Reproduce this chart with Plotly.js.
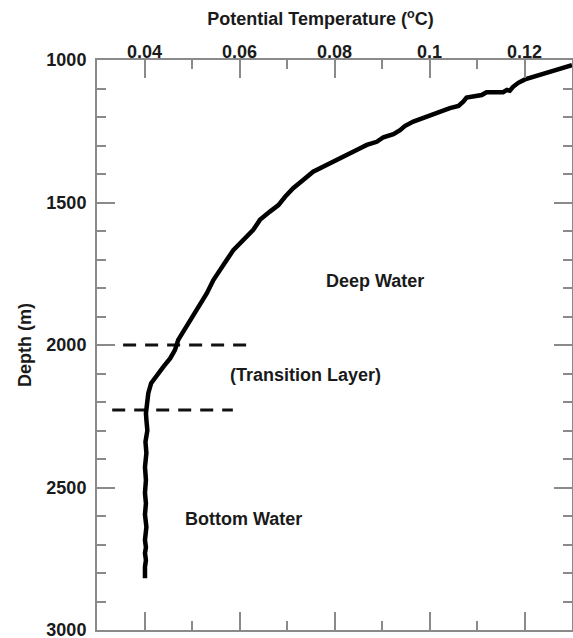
<!DOCTYPE html>
<html>
<head>
<meta charset="utf-8">
<script src="https://cdn.plot.ly/plotly-3.0.1.min.js"></script>
<style>
  html, body { margin: 0; padding: 0; background: #fff; }
  #chart { width: 573px; height: 638px; }
</style>
</head>
<body>
<div id="chart"></div>
<script>
// Potential temperature profile (°C) against depth (m)
const temperature = [
  0.1300, 0.1268, 0.1240, 0.1212, 0.1201, 0.1187, 0.1176, 0.1169, 0.1163, 0.1155,
  0.1134, 0.1120, 0.1110, 0.1092, 0.1078, 0.1071, 0.1061, 0.1043, 0.1015, 0.1001,
  0.0980, 0.0966, 0.0948, 0.0938, 0.0924, 0.0903, 0.0889, 0.0868, 0.0854, 0.0833,
  0.0812, 0.0784, 0.0755, 0.0734, 0.0713, 0.0696, 0.0682, 0.0664, 0.0643, 0.0629,
  0.0608, 0.0587, 0.0573, 0.0559, 0.0545, 0.0531, 0.0513, 0.0499, 0.0482, 0.0471,
  0.0464, 0.0454, 0.0440, 0.0426, 0.0414, 0.0408, 0.0405, 0.0403, 0.0404, 0.0406,
  0.0402, 0.0404, 0.0401, 0.0403, 0.0401, 0.0403, 0.0401, 0.0404, 0.0401, 0.0403,
  0.0401, 0.0403, 0.0401, 0.0402, 0.0401
];
const depth = [
  1018, 1035, 1049, 1064, 1068, 1080, 1094, 1108, 1105, 1113,
  1113, 1113, 1123, 1129, 1132, 1146, 1161, 1169, 1185, 1196,
  1208, 1216, 1232, 1246, 1260, 1271, 1287, 1298, 1310, 1327,
  1345, 1368, 1392, 1421, 1450, 1480, 1509, 1532, 1561, 1596,
  1632, 1667, 1702, 1737, 1772, 1819, 1866, 1906, 1947, 1982,
  2018, 2047, 2076, 2105, 2134, 2169, 2205, 2240, 2263, 2300,
  2340, 2379, 2428, 2474, 2519, 2555, 2595, 2639, 2684, 2710,
  2730, 2755, 2779, 2800, 2818
];

// Layer boundaries (dashed markers)
const upperBoundaryTemp = [0.0355, 0.0614];
const upperBoundaryDepth = [2000, 2000];
const lowerBoundaryTemp = [0.0332, 0.0586];
const lowerBoundaryDepth = [2228, 2228];

// Axis ticks
const tempTicks = [0.04, 0.06, 0.08, 0.1, 0.12];
const tempTickLabels = ['0.04', '0.06', '0.08', '0.1', '0.12'];
const depthTicks = [1000, 1500, 2000, 2500, 3000];
const depthTickLabels = ['1000', '1500', '2000', '2500', '3000'];

// Water mass labels
const layerNames = ['Deep Water', '(Transition Layer)', 'Bottom Water'];
const layerLabelTemp = [0.0885, 0.0739, 0.0608];
const layerLabelDepth = [1775, 2105, 2612];

const FONT = 'Liberation Sans, Arial, Helvetica, sans-serif';
const AXIS_GREY = '#8a8a8a';
const LABEL_FONT = { family: FONT, size: 18, color: '#1a1a1a', weight: 700 };

const traces = [
  {
    x: upperBoundaryTemp, y: upperBoundaryDepth, mode: 'lines',
    line: { color: '#111', width: 3, dash: '13px,9px' },
    hoverinfo: 'skip', showlegend: false
  },
  {
    x: lowerBoundaryTemp, y: lowerBoundaryDepth, mode: 'lines',
    line: { color: '#111', width: 3, dash: '13px,9px' },
    hoverinfo: 'skip', showlegend: false
  },
  {
    x: temperature, y: depth, mode: 'lines',
    line: { color: '#000', width: 4.5 },
    showlegend: false
  }
];

const axisCommon = {
  ticks: 'inside',
  ticklen: 18,
  tickwidth: 2,
  tickcolor: AXIS_GREY,
  showline: true,
  linecolor: AXIS_GREY,
  linewidth: 2,
  mirror: 'ticks',
  showgrid: false,
  zeroline: false,
  ticklabeloverflow: 'allow',
  tickfont: LABEL_FONT
};

const layout = {
  width: 573,
  height: 638,
  margin: { l: 97, r: 1, t: 60, b: 8 },
  paper_bgcolor: '#fff',
  plot_bgcolor: '#fff',
  title: {
    text: 'Potential Temperature (<sup>o</sup>C)',
    font: LABEL_FONT,
    xref: 'container', yref: 'container',
    x: 320.5 / 573, xanchor: 'center',
    y: 1 - 19 / 638, yanchor: 'middle'
  },
  // frame and ticks of the temperature axis
  xaxis: Object.assign({}, axisCommon, {
    side: 'top',
    range: [0.03, 0.13],
    tickmode: 'array',
    tickvals: tempTicks,
    ticktext: tempTickLabels,
    showticklabels: false,
    minor: { tickmode: 'linear', tick0: 0.03, dtick: 0.01, ticks: 'inside', ticklen: 9, tickwidth: 2, tickcolor: AXIS_GREY, showgrid: false }
  }),
  // temperature tick labels, set slightly closer to the frame
  xaxis2: {
    overlaying: 'x',
    matches: 'x',
    side: 'top',
    anchor: 'free',
    position: 1 - 2 / 570,
    range: [0.03, 0.13],
    tickmode: 'array',
    tickvals: tempTicks,
    ticktext: tempTickLabels,
    ticks: '',
    showline: false,
    showgrid: false,
    zeroline: false,
    ticklabeloverflow: 'allow',
    tickfont: LABEL_FONT
  },
  yaxis: Object.assign({}, axisCommon, {
    range: [3000, 1000],
    tickmode: 'array',
    tickvals: depthTicks,
    ticktext: depthTickLabels,
    ticklabelstandoff: 5,
    minor: { tickmode: 'linear', tick0: 1000, dtick: 100, ticks: 'inside', ticklen: 9, tickwidth: 2, tickcolor: AXIS_GREY, showgrid: false },
    title: {
      text: 'Depth (m)',
      font: LABEL_FONT,
      standoff: 10
    }
  }),
  annotations: layerNames.map((name, i) => ({
    text: name,
    x: layerLabelTemp[i], y: layerLabelDepth[i],
    xref: 'x', yref: 'y',
    xanchor: 'center', yanchor: 'middle',
    showarrow: false,
    font: LABEL_FONT
  }))
};

// an empty trace on the label axis keeps it drawn
traces.push({ x: [], y: [], xaxis: 'x2', yaxis: 'y', mode: 'lines', showlegend: false, hoverinfo: 'skip' });

Plotly.newPlot('chart', traces, layout, { displayModeBar: false, staticPlot: true });
</script>
</body>
</html>
